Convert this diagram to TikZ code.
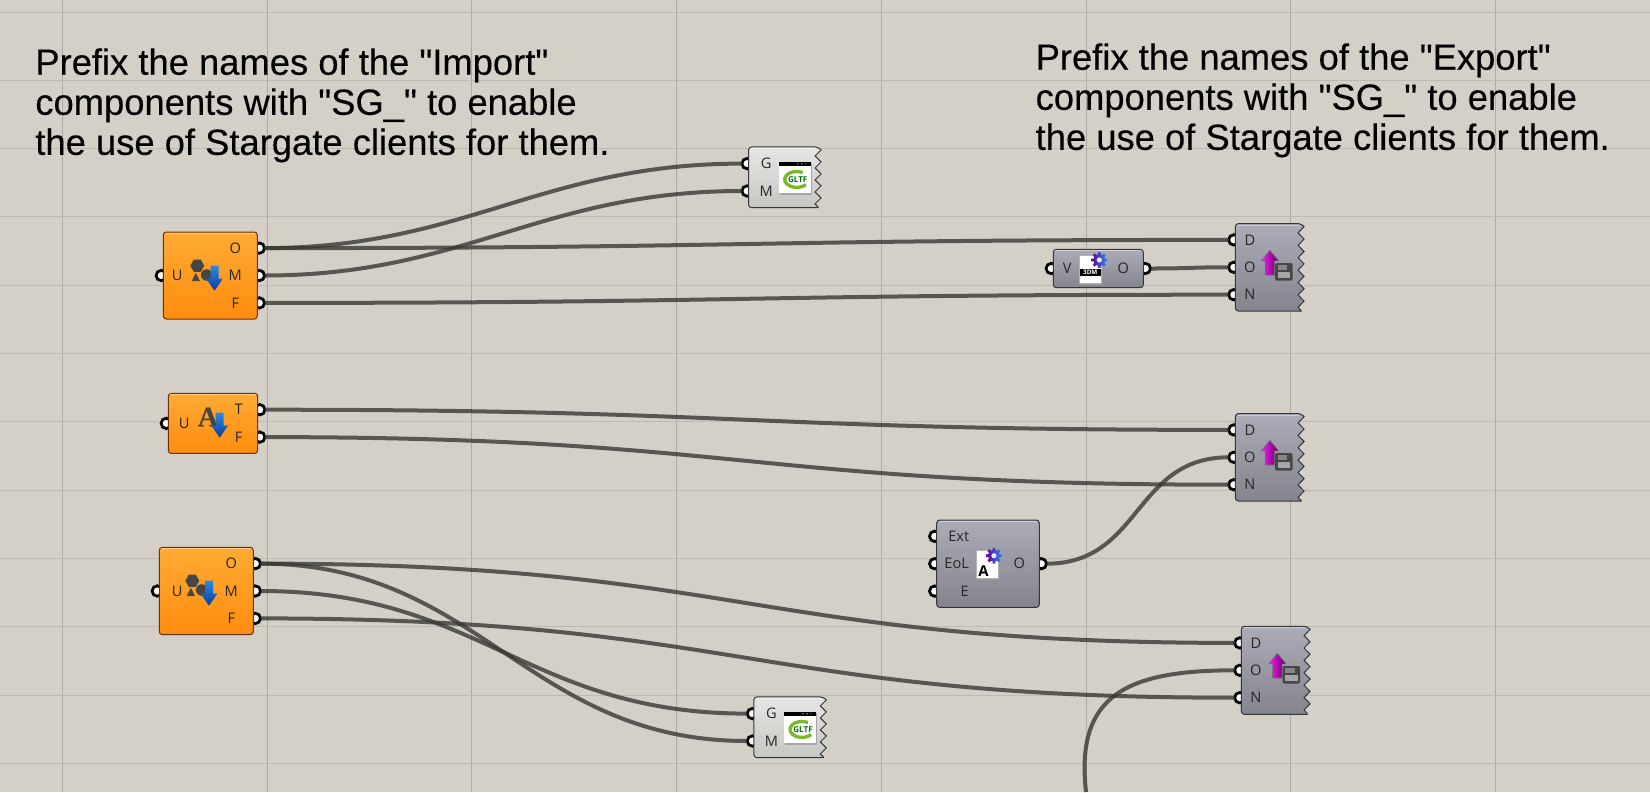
\documentclass[tikz,border=0pt]{standalone}
\usepackage{fontspec}
\setmainfont{Liberation Sans}
\newfontfamily\notefont[FakeBold=0.3]{Liberation Sans}
\newfontfamily\portfont{Open Sans}
\newfontfamily\iconfont[FakeBold=0.6]{Liberation Serif Bold}
\usetikzlibrary{backgrounds, decorations.pathmorphing}
\definecolor{canvasgrey}{HTML}{D4D0C8}
\definecolor{gridline}{HTML}{BDBAB2}
\definecolor{gridcross}{HTML}{ACAAA2}
\definecolor{wiregrey}{HTML}{3A3833}
\definecolor{orangetop}{HTML}{FFAB33}
\definecolor{orangelow}{HTML}{FF8C10}
\definecolor{orangerim}{HTML}{6B2F12}
\definecolor{steeltop}{HTML}{ACACB8}
\definecolor{steellow}{HTML}{84848E}
\definecolor{paletop}{HTML}{E6E6E4}
\definecolor{palelow}{HTML}{C6C6C3}
\definecolor{rimdark}{HTML}{36363A}
\definecolor{arrowlight}{HTML}{2A8CE6}
\definecolor{arrowdark}{HTML}{0A3A9C}
\definecolor{shapegrey}{HTML}{464644}
\definecolor{gltfgreen}{HTML}{7AB829}
\def\px{0.02cm}

\newcommand{\tornbody}[3]{
\draw[#2] (#1.north east) decorate[decoration={zigzag,segment length=#3*\px,amplitude=3*\px}] {-- (#1.south east)} [rounded corners=1.7pt] -- (#1.south west) -- (#1.north west) -- cycle;
}

\tikzset{
geoarrow/.pic={
\shade[top color=arrowlight, bottom color=arrowdark] (-4,0) -- (4,0) -- (4,13) -- (8.3,13) -- (0,25) -- (-8.3,13) -- (-4,13) -- cycle;
},
geoshapes/.pic={
\fill[shapegrey] (0:7) -- (60:7) -- (120:7) -- (180:7) -- (240:7) -- (300:7) -- cycle;
\fill[shapegrey] (-1.5,7) -- (2.7,15.3) -- (-5.6,15.3) -- cycle;
\fill[shapegrey] (9.4,9.3) circle (5.8);
},
gearicon/.pic={
\shade[left color=violet!80!blue, right color=arrowlight] (-10:8)
\foreach \a in {0,45,...,315} { -- ({\a-10}:8) -- ({\a+10}:8) -- ({\a+15}:5.8) -- ({\a+30}:5.8) } -- cycle;
\fill[white!85!arrowlight] (0,0) circle (2.6);
},
saveicon/.pic={
\shade[left color=magenta!90!white, right color=violet!70!black, draw=black!55, line width=0.3pt] (1.7,-17) -- (10.4,-6.5) -- (6.4,-6.5) -- (6.4,7.7) -- (-3,7.7) -- (-3,-6.5) -- (-7,-6.5) -- cycle;
\fill[black!72, rounded corners=1.2pt] (6.8,-4.3) rectangle (24.5,13.4);
\fill[black!48] (9.5,-2.5) rectangle (19,2.5);
\fill[black!35] (9.5,5) rectangle (22,11);
},
gltficon/.pic={
\fill[black!35] (-15,-15) rectangle (17,17);
\fill[white] (-16,-16) rectangle (16,15.5);
\fill[black] (-16,-16) rectangle (16,-11.5);
\fill[black!50] (3,-13.7) circle (0.9) (7,-13.7) circle (0.9);
\fill[red] (11,-13.7) circle (0.9);
\draw[gltfgreen, line width=1.9pt] (8,-5) arc[start angle=-60, end angle=-320, x radius=12, y radius=8];
\node (gltfmark) [text=green!45!black, font=\portfont\bfseries\fontsize{4.6}{5}\selectfont] at (3,2.5) {GLTF};
},
papericon/.pic={
\fill[black!40] (-10,-13) rectangle (12,15);
\fill[white, draw=black!30, line width=0.3pt] (-11,-14) rectangle (10.5,13.5);
}
}

\begin{document}
\begin{tikzpicture}[x=0.02cm, y=-0.02cm]
\tikzstyle{orangebox} = [rectangle, rounded corners=1.7pt, top color=orangetop, bottom color=orangelow, draw=orangerim, line width=1*\px, inner sep=0]
\tikzstyle{steelbox} = [rectangle, rounded corners=1.7pt, top color=steeltop, bottom color=steellow, draw=rimdark, line width=1*\px, inner sep=0]
\tikzstyle{tornbase} = [rectangle, inner sep=0]
\tikzstyle{steelfill} = [top color=steeltop, bottom color=steellow, draw=rimdark, line width=1*\px]
\tikzstyle{palefill} = [top color=paletop, bottom color=palelow, draw=rimdark, line width=1*\px]
\tikzstyle{port} = [circle, draw=black, fill=white, line width=2.8*\px, minimum size=10.4*\px, inner sep=0, outer sep=0, node distance=27.4*\px]
\tikzstyle{wire} = [wiregrey, opacity=0.8, line width=4*\px]
\tikzstyle{plab} = [font=\portfont\fontsize{8.3}{9}\selectfont, text=black!85, inner sep=0, node distance=16*\px]
\tikzstyle{note} = [anchor=north west, align=left, inner sep=0, font=\notefont\fontsize{20.7}{22.8}\selectfont]

\useasboundingbox (0,0) rectangle (1650,792);

\node (impOne) [orangebox, minimum width=94*\px, minimum height=87*\px] at (210.3,275.5) {};
\node (impTwo) [orangebox, minimum width=89.4*\px, minimum height=60*\px] at (213,423.4) {};
\node (impThree) [orangebox, minimum width=94*\px, minimum height=87.3*\px] at (206.3,591) {};
\node (gltfOne) [tornbase, minimum width=68.7*\px, minimum height=60*\px] at (783.3,177.3) {};
\node (gltfTwo) [tornbase, minimum width=68.7*\px, minimum height=60*\px] at (788.6,727.3) {};
\node (expOne) [tornbase, minimum width=65*\px, minimum height=86.7*\px] at (1268.2,267.3) {};
\node (expTwo) [tornbase, minimum width=65*\px, minimum height=86.7*\px] at (1268.2,457.3) {};
\node (expThree) [tornbase, minimum width=65*\px, minimum height=87.3*\px] at (1274.2,670.3) {};
\node (optOne) [steelbox, minimum width=90*\px, minimum height=38.4*\px] at (1098.3,268.5) {};
\node (optTwo) [steelbox, minimum width=102.6*\px, minimum height=87.3*\px] at (988,563.7) {};

\tornbody{gltfOne}{palefill}{12}
\tornbody{gltfTwo}{palefill}{12}
\tornbody{expOne}{steelfill}{12.4}
\tornbody{expTwo}{steelfill}{12.4}
\tornbody{expThree}{steelfill}{12.4}

\begin{scope}[on background layer]
\fill[canvasgrey] (0,0) rectangle (1650,792);
\foreach \k in {0,...,7}
  \draw[gridcross, line width=0.55pt] ({62.5+204.7*\k},0) -- ({62.5+204.7*\k},792);
\foreach \k in {0,...,11}
  \draw[gridline, line width=0.55pt] (0,{12+68.3*\k}) -- (1650,{12+68.3*\k});

\node (impOneU) [port] at ([xshift=-1.5*\px]impOne.west) {};
\node (impOneM) [port] at ([xshift=1.5*\px]impOne.east) {};
\node (impOneO) [port, above of=impOneM] {};
\node (impOneF) [port, below of=impOneM] {};
\node (impTwoU) [port] at ([xshift=-1.5*\px]impTwo.west) {};
\node (impTwoT) [port] at ([xshift=1.5*\px, yshift=13.7*\px]impTwo.east) {};
\node (impTwoF) [port, below of=impTwoT] {};
\node (impThreeU) [port] at ([xshift=-1.5*\px]impThree.west) {};
\node (impThreeM) [port] at ([xshift=1.5*\px]impThree.east) {};
\node (impThreeO) [port, above of=impThreeM] {};
\node (impThreeF) [port, below of=impThreeM] {};
\node (gltfOneG) [port] at ([xshift=-1.5*\px, yshift=13.7*\px]gltfOne.west) {};
\node (gltfOneM) [port, below of=gltfOneG] {};
\node (gltfTwoG) [port] at ([xshift=-1.5*\px, yshift=13.7*\px]gltfTwo.west) {};
\node (gltfTwoM) [port, below of=gltfTwoG] {};
\node (expOneO) [port] at ([xshift=-1.5*\px]expOne.west) {};
\node (expOneD) [port, above of=expOneO] {};
\node (expOneN) [port, below of=expOneO] {};
\node (expTwoO) [port] at ([xshift=-1.5*\px]expTwo.west) {};
\node (expTwoD) [port, above of=expTwoO] {};
\node (expTwoN) [port, below of=expTwoO] {};
\node (expThreeO) [port] at ([xshift=-1.5*\px]expThree.west) {};
\node (expThreeD) [port, above of=expThreeO] {};
\node (expThreeN) [port, below of=expThreeO] {};
\node (optOneV) [port] at ([xshift=-1.5*\px]optOne.west) {};
\node (optOneO) [port] at ([xshift=1.5*\px]optOne.east) {};
\node (optTwoEoL) [port] at ([xshift=-1.5*\px]optTwo.west) {};
\node (optTwoExt) [port, above of=optTwoEoL] {};
\node (optTwoE) [port, below of=optTwoEoL] {};
\node (optTwoO) [port] at ([xshift=1.5*\px]optTwo.east) {};
\coordinate (cableEnd) at (1086,792);

\draw[wire] (impOneO.east) .. controls +(200,0) and +(-200,0) .. (gltfOneG.west);
\draw[wire] (impOneM.east) .. controls +(200,0) and +(-200,0) .. (gltfOneM.west);
\draw[wire] (impOneO.east) .. controls +(480,0) and +(-480,0) .. (expOneD.west);
\draw[wire] (impOneF.east) .. controls +(480,0) and +(-480,0) .. (expOneN.west);
\draw[wire] (optOneO.east) .. controls +(40,0) and +(-40,0) .. (expOneO.west);
\draw[wire] (impTwoT.east) .. controls +(480,0) and +(-480,0) .. (expTwoD.west);
\draw[wire] (impTwoF.east) .. controls +(480,0) and +(-480,0) .. (expTwoN.west);
\draw[wire] (optTwoO.east) .. controls +(95,0) and +(-95,0) .. (expTwoO.west);
\draw[wire] (impThreeO.east) .. controls +(480,0) and +(-480,0) .. (expThreeD.west);
\draw[wire] (impThreeF.east) .. controls +(480,0) and +(-480,0) .. (expThreeN.west);
\draw[wire] (impThreeM.east) .. controls +(220,0) and +(-220,0) .. (gltfTwoG.west);
\draw[wire] (impThreeO.east) .. controls +(220,0) and +(-220,0) .. (gltfTwoM.west);
\draw[wire] (expThreeO.west) .. controls +(-108,0) and (1075,695) .. (cableEnd);
\end{scope}

\foreach \b in {impOne,impTwo,impThree,optOne,optTwo,expOne,expTwo,expThree,gltfOne,gltfTwo}
  \draw[white, opacity=0.4, line width=1*\px] ([xshift=2.5*\px, yshift=-1.6*\px]\b.north west) -- ([xshift=-2.5*\px, yshift=-1.6*\px]\b.north east);

\node (labOneU) [plab, right of=impOneU] {U};
\node (labOneO) [plab, left of=impOneO, xshift=-8*\px] {O};
\node (labOneM) [plab, left of=impOneM, xshift=-8*\px] {M};
\node (labOneF) [plab, left of=impOneF, xshift=-8*\px] {F};
\node (labTwoU) [plab, right of=impTwoU, xshift=2*\px] {U};
\node (labTwoT) [plab, left of=impTwoT, xshift=-5*\px] {T};
\node (labTwoF) [plab, left of=impTwoF, xshift=-5*\px] {F};
\node (labThreeU) [plab, right of=impThreeU, xshift=4*\px] {U};
\node (labThreeO) [plab, left of=impThreeO, xshift=-8*\px] {O};
\node (labThreeM) [plab, left of=impThreeM, xshift=-8*\px] {M};
\node (labThreeF) [plab, left of=impThreeF, xshift=-8*\px] {F};
\node (labGltfOneG) [plab, right of=gltfOneG, xshift=3*\px] {G};
\node (labGltfOneM) [plab, right of=gltfOneM, xshift=3*\px] {M};
\node (labGltfTwoG) [plab, right of=gltfTwoG, xshift=3*\px] {G};
\node (labGltfTwoM) [plab, right of=gltfTwoM, xshift=3*\px] {M};
\node (labExpOneD) [plab, right of=expOneD] {D};
\node (labExpOneO) [plab, right of=expOneO] {O};
\node (labExpOneN) [plab, right of=expOneN] {N};
\node (labExpTwoD) [plab, right of=expTwoD] {D};
\node (labExpTwoO) [plab, right of=expTwoO] {O};
\node (labExpTwoN) [plab, right of=expTwoN] {N};
\node (labExpThreeD) [plab, right of=expThreeD] {D};
\node (labExpThreeO) [plab, right of=expThreeO] {O};
\node (labExpThreeN) [plab, right of=expThreeN] {N};
\node (labOptOneV) [plab, right of=optOneV] {V};
\node (labOptOneO) [plab, left of=optOneO, xshift=-6*\px] {O};
\node (labOptTwoExt) [plab, right of=optTwoExt, xshift=8*\px] {Ext};
\node (labOptTwoEoL) [plab, right of=optTwoEoL, xshift=6*\px] {EoL};
\node (labOptTwoE) [plab, right of=optTwoE, xshift=14*\px] {E};
\node (labOptTwoO) [plab, left of=optTwoO, xshift=-6*\px] {O};

\pic at (197.3,265.7) {geoshapes};
\pic at (214.5,265.7) {geoarrow};
\pic at (192.3,580.7) {geoshapes};
\pic at (209,580.7) {geoarrow};
\node (letterA) [text=shapegrey, inner sep=0, font=\iconfont\fontsize{16}{16}\selectfont] at (208,417) {A};
\pic at (219.7,412.7) {geoarrow};

\pic at (794.7,177.5) {gltficon};
\pic at (800,727.5) {gltficon};

\pic at (1268.2,457.3) {saveicon};
\pic at (1268.2,267.3) {saveicon};
\pic at (1275.7,670.3) {saveicon};

\pic at (1090.3,269.5) {papericon};
\fill[black] (1080,269) rectangle (1100.7,275.7);
\node (bandText) [text=white, inner sep=0, font=\portfont\bfseries\fontsize{3.6}{4}\selectfont] at (1090.3,272.4) {3DM};
\pic at (1099.3,260) {gearicon};

\pic at (987.5,564.5) {papericon};
\node (letterAs) [text=black, inner sep=0, font=\portfont\bfseries\fontsize{8.5}{9}\selectfont] at (983.5,571) {A};
\pic at (994,555.7) {gearicon};

\node (noteImport) [note] at (35,48) {Prefix the names of the \symbol{34}Import\symbol{34}\\components with \symbol{34}SG\_\symbol{34} to enable\\the use of Stargate clients for them.};
\node (noteExport) [note] at (1035.3,43) {Prefix the names of the \symbol{34}Export\symbol{34}\\components with \symbol{34}SG\_\symbol{34} to enable\\the use of Stargate clients for them.};
\end{tikzpicture}
\end{document}
